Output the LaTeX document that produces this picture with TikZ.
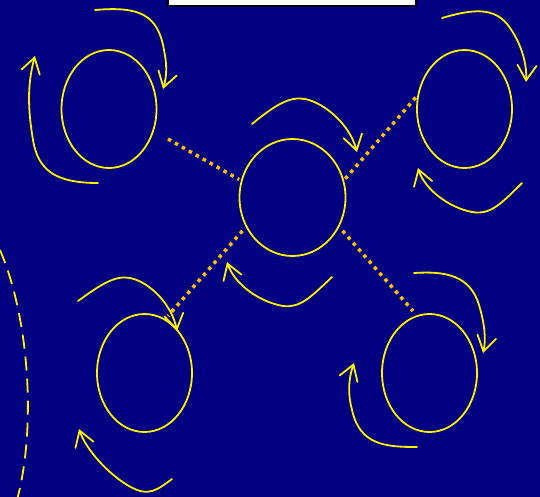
\documentclass[tikz,border=0pt]{standalone}
\usetikzlibrary{arrows.meta,shapes.geometric,positioning}
\definecolor{navy}{HTML}{000080}
\definecolor{dotorange}{HTML}{FFC000}

\begin{document}
\begin{tikzpicture}[x=1pt, y=-1pt,
                    every node/.style={inner sep=0pt, outer sep=0pt},
                    cell/.style={ellipse, draw=yellow, line width=1.8pt,
                                 minimum width=95pt, minimum height=118pt},
                    turn/.style={draw=yellow, line width=1.8pt, line cap=round,
                                 -{Straight Barb[length=15pt, width=19pt, line cap=round]}},
                    link/.style={draw=dotorange, line width=3.5pt,
                                 dash pattern=on 3.5pt off 4.5pt}]
  \useasboundingbox (0,0) rectangle (540,497);
  \clip (0,0) rectangle (540,497);
  \fill[navy] (0,0) rectangle (540,497);

  % Define nodes
  \node[draw=black, fill=white, line width=1.5pt, minimum width=248pt, minimum height=22pt]
    (title) at (292,-5) {};

  \node[cell] (tl) at (109,109) {};
  \node[cell] (tr) at (464.5,109) {};
  \node[cell, minimum width=106pt, minimum height=117pt] (mid) at (292.5,197.5) {};
  \node[cell] (bl) at (144.5,373) {};
  \node[cell] (br) at (429.5,373) {};

  \coordinate (tlend) at (168,139);
  \coordinate (trend) at (417,96);
  \coordinate (blend) at (168,316);
  \coordinate (brend) at (413,311);

  % Define paths
  \draw[link, shorten >=3pt] (tlend) -- (mid.162);
  \draw[link, shorten <=3pt] (mid.18) -- (trend);
  \draw[link, shorten <=6pt] (mid.212) -- (blend);
  \draw[link, shorten <=6pt] (mid.-32) -- (brend);

  % Turning arrows
  \draw[turn] (95,10) .. controls (140,6) and (158,15) .. (164,50)
              .. controls (167,65) and (167,75) .. (163,89);
  \draw[turn] (98,183) .. controls (55,183) and (38,170) .. (33,140)
              .. controls (28,110) and (27,85) .. (35,56);
  \draw[turn] (252,124) .. controls (275,105) and (290,96) .. (305,99)
              .. controls (325,103) and (350,125) .. (357,152);
  \draw[turn] (332,277) .. controls (310,298) and (300,308) .. (283,306)
              .. controls (260,302) and (235,285) .. (227,262);
  \draw[turn] (442,18) .. controls (470,10) and (495,5) .. (510,28)
              .. controls (522,45) and (527,65) .. (526,82);
  \draw[turn] (522,183) .. controls (500,205) and (490,215) .. (472,212)
              .. controls (450,208) and (425,190) .. (418,168);
  \draw[turn] (78,301) .. controls (100,285) and (115,275) .. (130,278)
              .. controls (150,282) and (172,305) .. (177,331);
  \draw[turn] (172,479) .. controls (160,488) and (152,494) .. (140,491)
              .. controls (120,485) and (88,455) .. (79,429);
  \draw[turn] (414,273) .. controls (445,271) and (470,275) .. (479,305)
              .. controls (485,325) and (486,340) .. (483,353);
  \draw[turn] (417,447) .. controls (385,447) and (360,445) .. (352,410)
              .. controls (348,395) and (348,380) .. (354,363);

  % Dashed border arc
  \draw[yellow, line width=1.8pt, dash pattern=on 14pt off 8pt]
    (0,250) .. controls (30,320) and (36,430) .. (17,500);

\end{tikzpicture}
\end{document}
